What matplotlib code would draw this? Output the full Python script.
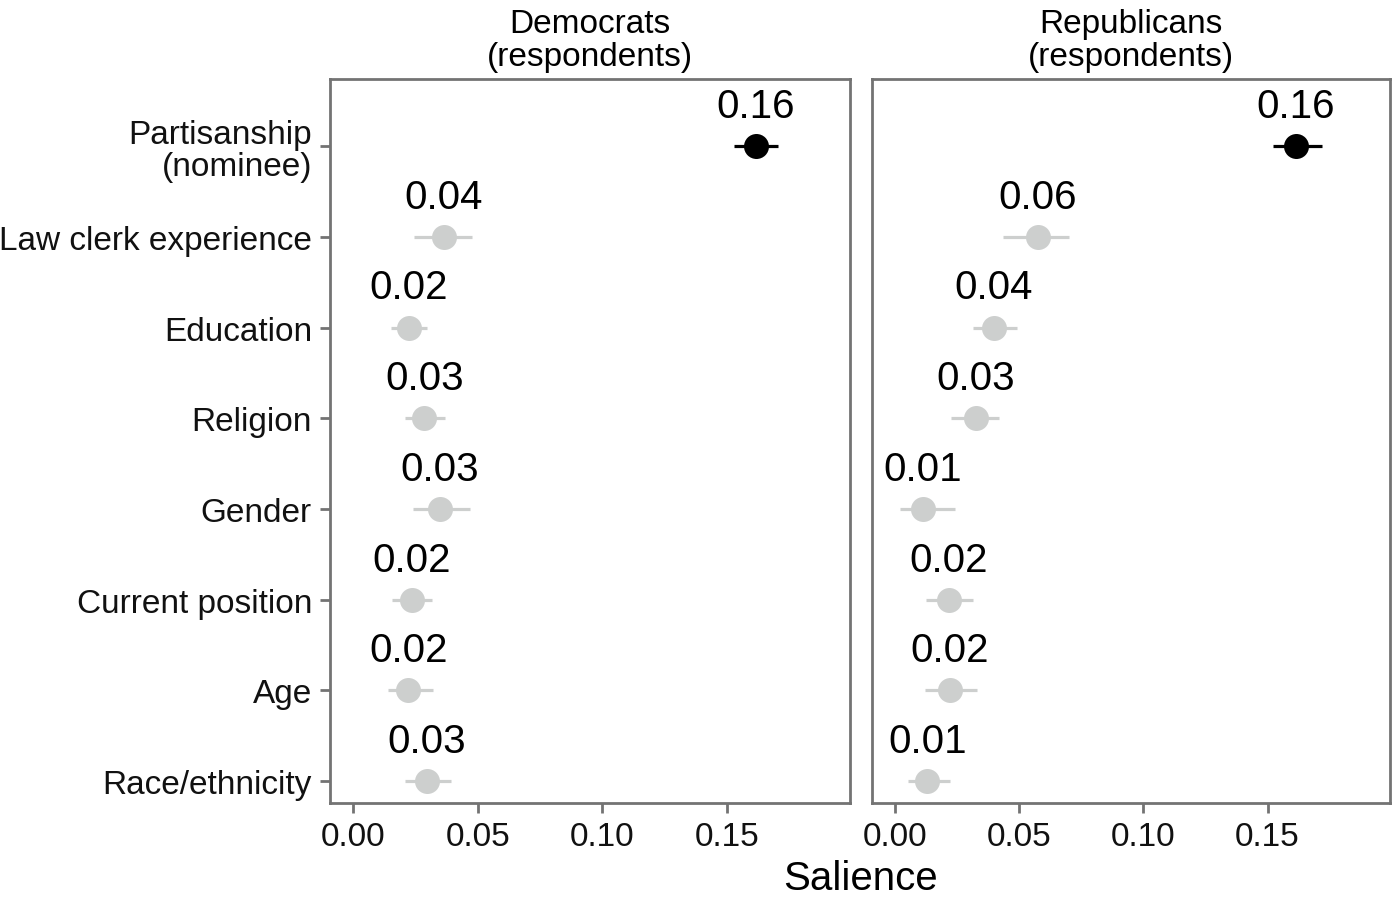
import numpy as np
import matplotlib
matplotlib.use('Agg')
import matplotlib.pyplot as plt

plt.rcParams['font.family'] = ['Liberation Sans', 'DejaVu Sans']

# attributes, top to bottom
attributes = ['Partisanship\n(nominee)', 'Law clerk experience', 'Education', 'Religion',
              'Gender', 'Current position', 'Age', 'Race/ethnicity']
panels = ['Democrats\n(respondents)', 'Republicans\n(respondents)']

# salience estimates with lower / upper bounds
dem_est = [0.1614, 0.0364, 0.0222, 0.0285, 0.0348, 0.0235, 0.0221, 0.0296]
dem_lo = [0.1528, 0.0243, 0.0150, 0.0209, 0.0238, 0.0156, 0.0138, 0.0206]
dem_hi = [0.1705, 0.0475, 0.0296, 0.0369, 0.0468, 0.0317, 0.0321, 0.0394]

rep_est = [0.1614, 0.0575, 0.0398, 0.0325, 0.0111, 0.0217, 0.0221, 0.0130]
rep_lo = [0.1520, 0.0433, 0.0313, 0.0225, 0.0020, 0.0123, 0.0122, 0.0052]
rep_hi = [0.1720, 0.0702, 0.0491, 0.0417, 0.0241, 0.0312, 0.0328, 0.0221]

highlight = [True, False, False, False, False, False, False, False]

x_ticks = [0.00, 0.05, 0.10, 0.15]

frame_col = '#737373'
grey = '#cdcfce'

fig = plt.figure(figsize=(13.96, 9.12), dpi=100)
bottom = 1 - 804 / 912
height = (804 - 80) / 912
ax_dem = fig.add_axes([330 / 1396, bottom, 520 / 1396, height])
ax_rep = fig.add_axes([872 / 1396, bottom, 518 / 1396, height])

ypos = np.arange(len(attributes))

for ax, title, est, lo, hi in [(ax_dem, panels[0], dem_est, dem_lo, dem_hi),
                               (ax_rep, panels[1], rep_est, rep_lo, rep_hi)]:
    for y, e, l, h, hl in zip(ypos, est, lo, hi, highlight):
        col = 'black' if hl else grey
        ax.plot([l, h], [y, y], color=col, lw=2.3, solid_capstyle='butt', zorder=2)
        ax.plot(e, y, 'o', color=col, ms=18, mec='none', zorder=3)
        ax.annotate(f'{e:.2f}', (e, y), xytext=(0, 21), textcoords='offset points',
                    ha='center', va='baseline', fontsize=29, color='black')
    ax.set_xlim(-0.0093, 0.1993)
    ax.set_ylim(7.24, -0.74)
    ax.set_xticks(x_ticks)
    ax.set_xticklabels([f'{t:.2f}' for t in x_ticks], fontsize=24, color='#111111')
    for sp in ax.spines.values():
        sp.set_color(frame_col)
        sp.set_linewidth(2)
    ax.tick_params(axis='x', colors=frame_col, labelcolor='#111111', length=7, width=2, pad=6)
    ax.set_title(title, fontsize=24, linespacing=1.1, pad=10)

ax_dem.set_yticks(ypos)
ax_dem.set_yticklabels(attributes, fontsize=24, color='#111111', linespacing=1.05)
ax_dem.tick_params(axis='y', colors=frame_col, labelcolor='#111111', length=7, width=2, pad=6)
ax_rep.set_yticks([])

fig.text(860 / 1396, 1 - 879 / 912, 'Salience', ha='center', va='center', fontsize=29)

fig.savefig('out.png', dpi=100, facecolor='white')
